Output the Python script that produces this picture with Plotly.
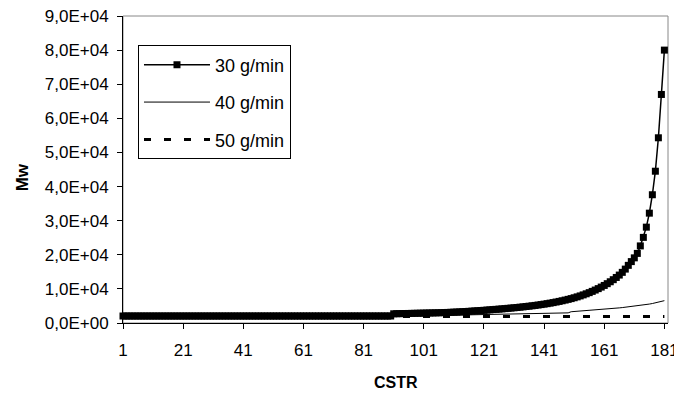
import plotly.graph_objects as go

cstr = list(range(1, 182))

mw_30 = [
    2050, 2050, 2050, 2050, 2050, 2050, 2050, 2050, 2050, 2050,
    2050, 2050, 2050, 2050, 2050, 2050, 2050, 2050, 2050, 2050,
    2050, 2050, 2050, 2050, 2050, 2050, 2050, 2050, 2050, 2050,
    2050, 2050, 2050, 2050, 2050, 2050, 2050, 2050, 2050, 2050,
    2050, 2050, 2050, 2050, 2050, 2050, 2050, 2050, 2050, 2050,
    2050, 2050, 2050, 2050, 2050, 2050, 2050, 2050, 2050, 2050,
    2050, 2050, 2050, 2050, 2050, 2050, 2050, 2050, 2050, 2050,
    2050, 2050, 2050, 2050, 2050, 2050, 2050, 2050, 2050, 2050,
    2050, 2050, 2050, 2050, 2050, 2050, 2050, 2050, 2050, 2050,
    2700, 2720, 2740, 2760, 2780, 2800, 2820, 2840, 2860, 2880,
    2900, 2920, 2940, 2960, 2980, 3000, 3030, 3060, 3100, 3140,
    3180, 3220, 3270, 3320, 3370, 3420, 3480, 3540, 3600, 3660,
    3720, 3790, 3860, 3930, 4000, 4070, 4140, 4220, 4300, 4380,
    4460, 4550, 4640, 4730, 4830, 4930, 5040, 5150, 5270, 5400,
    5530, 5670, 5820, 5980, 6150, 6330, 6520, 6720, 6930, 7150,
    7400, 7660, 7940, 8240, 8560, 8900, 9270, 9660, 10080, 10530,
    11010, 11530, 12090, 12700, 13350, 14050, 14850, 15800, 16900, 18000,
    19100, 20400, 22600, 25100, 28100, 32200, 37600, 44500, 54300, 67000,
    80000,
]

mw_40 = [
    2000, 2000, 2000, 2000, 2000, 2000, 2000, 2000, 2000, 2000,
    2000, 2000, 2000, 2000, 2000, 2000, 2000, 2000, 2000, 2000,
    2000, 2000, 2000, 2000, 2000, 2000, 2000, 2000, 2000, 2000,
    2000, 2000, 2000, 2000, 2000, 2000, 2000, 2000, 2000, 2000,
    2000, 2000, 2000, 2000, 2000, 2000, 2000, 2000, 2000, 2000,
    2000, 2000, 2000, 2000, 2000, 2000, 2000, 2000, 2000, 2000,
    2000, 2000, 2000, 2000, 2000, 2000, 2000, 2000, 2000, 2000,
    2000, 2000, 2000, 2000, 2000, 2000, 2000, 2000, 2000, 2000,
    2000, 2000, 2000, 2000, 2000, 2000, 2000, 2000, 2000, 2000,
    2050, 2060, 2070, 2080, 2090, 2100, 2110, 2120, 2130, 2140,
    2150, 2160, 2175, 2190, 2205, 2220, 2235, 2250, 2265, 2280,
    2295, 2310, 2325, 2340, 2355, 2370, 2385, 2400, 2415, 2430,
    2445, 2460, 2475, 2490, 2505, 2520, 2535, 2550, 2570, 2590,
    2610, 2630, 2650, 2670, 2690, 2710, 2730, 2750, 2770, 2790,
    2810, 2830, 2850, 2870, 2890, 2910, 2930, 2950, 2970, 3300,
    3360, 3420, 3480, 3540, 3600, 3670, 3740, 3810, 3880, 3950,
    4030, 4110, 4190, 4270, 4350, 4430, 4520, 4610, 4700, 4800,
    4900, 5010, 5130, 5260, 5400, 5550, 5710, 5880, 6060, 6300,
    6550,
]

mw_50 = [
    1900, 1900, 1900, 1900, 1900, 1900, 1900, 1900, 1900, 1900,
    1900, 1900, 1900, 1900, 1900, 1900, 1900, 1900, 1900, 1900,
    1900, 1900, 1900, 1900, 1900, 1900, 1900, 1900, 1900, 1900,
    1900, 1900, 1900, 1900, 1900, 1900, 1900, 1900, 1900, 1900,
    1900, 1900, 1900, 1900, 1900, 1900, 1900, 1900, 1900, 1900,
    1900, 1900, 1900, 1900, 1900, 1900, 1900, 1900, 1900, 1900,
    1900, 1900, 1900, 1900, 1900, 1900, 1900, 1900, 1900, 1900,
    1900, 1900, 1900, 1900, 1900, 1900, 1900, 1900, 1900, 1900,
    1900, 1900, 1900, 1900, 1900, 1900, 1900, 1900, 1900, 1900,
    1900, 1900, 1900, 1900, 1900, 1900, 1900, 1900, 1900, 1900,
    1900, 1900, 1900, 1900, 1900, 1900, 1900, 1900, 1900, 1900,
    1900, 1900, 1900, 1900, 1900, 1900, 1900, 1900, 1900, 1900,
    1900, 1900, 1900, 1900, 1900, 1900, 1900, 1900, 1900, 1900,
    1900, 1900, 1900, 1900, 1900, 1900, 1900, 1900, 1900, 1900,
    1900, 1900, 1900, 1900, 1900, 1900, 1900, 1900, 1900, 1900,
    1900, 1900, 1900, 1900, 1900, 1900, 1900, 1900, 1900, 1900,
    1900, 1900, 1900, 1900, 1900, 1900, 1900, 1900, 1900, 1900,
    1900, 1900, 1900, 1900, 1900, 1900, 1900, 1900, 1900, 1900,
    1900,
]

series_names = ["30 g/min", "40 g/min", "50 g/min"]

x_tick_vals = [1, 21, 41, 61, 81, 101, 121, 141, 161, 181]
y_tick_vals = [0, 10000, 20000, 30000, 40000, 50000, 60000, 70000, 80000, 90000]
y_tick_text = ["0,0E+00", "1,0E+04", "2,0E+04", "3,0E+04", "4,0E+04",
               "5,0E+04", "6,0E+04", "7,0E+04", "8,0E+04", "9,0E+04"]

FONT = "Liberation Sans, Arial, sans-serif"

fig = go.Figure()
fig.add_trace(go.Scatter(
    x=cstr, y=mw_30, name=series_names[0], mode="lines+markers",
    line=dict(color="black", width=1.5),
    marker=dict(symbol="square", size=7, color="black", line=dict(width=0)),
    cliponaxis=False, legendgroup="a",
))
fig.add_trace(go.Scatter(
    x=cstr, y=mw_40, name=series_names[1], mode="lines",
    line=dict(color="black", width=1), legendgroup="b",
))
fig.add_trace(go.Scatter(
    x=cstr, y=mw_50, name=series_names[2], mode="lines",
    line=dict(color="black", width=3, dash="7px,13px"), legendgroup="c",
))

# The page body has an 8px margin, so the figure is sized to fit the window.
fig.update_layout(
    width=674, height=386,
    margin=dict(l=115, r=14, t=8, b=71, autoexpand=False),
    paper_bgcolor="white", plot_bgcolor="white",
    font=dict(family=FONT, color="black", size=17),
    showlegend=True,
    legend=dict(
        x=0.0275, y=0.904, xanchor="left", yanchor="top",
        bordercolor="black", borderwidth=1, bgcolor="white",
        font=dict(family=FONT, size=18, color="black"),
        tracegroupgap=11, itemwidth=66, entrywidth=150,
    ),
    xaxis=dict(
        range=[1, 182.2], tickmode="array", tickvals=x_tick_vals,
        showgrid=False, zeroline=False, showline=True, linecolor="black",
        linewidth=1, ticks="outside", ticklen=5, tickcolor="black",
        tickfont=dict(family=FONT, size=17), ticklabelstandoff=7,
        automargin=False, ticklabeloverflow="allow",
    ),
    yaxis=dict(
        range=[0, 90000], tickmode="array", tickvals=y_tick_vals,
        ticktext=y_tick_text, showgrid=False, zeroline=False,
        showline=True, linecolor="black", linewidth=1, ticks="outside",
        ticklen=5, tickcolor="black", tickfont=dict(family=FONT, size=17),
        ticklabelstandoff=5, automargin=False, ticklabeloverflow="allow",
    ),
    shapes=[dict(type="rect", xref="paper", yref="paper", x0=0, x1=1,
                 y0=0, y1=1, line=dict(color="#888888", width=1),
                 layer="below")],
    annotations=[
        dict(text="<b>Mw</b>", xref="paper", yref="paper", x=-0.185, y=0.475,
             textangle=-90, showarrow=False, xanchor="center", yanchor="middle",
             font=dict(family=FONT, size=17)),
        dict(text="<b>CSTR</b>", xref="paper", yref="paper", x=0.5, y=-0.194,
             showarrow=False, xanchor="center", yanchor="middle",
             font=dict(family=FONT, size=16)),
    ],
)

fig.write_html("out.html")
